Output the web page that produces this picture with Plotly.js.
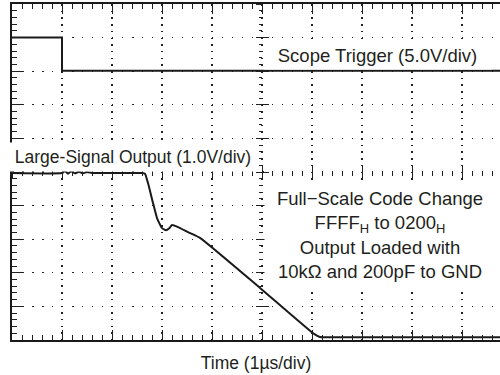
<!DOCTYPE html>
<html>
<head>
<meta charset="utf-8">
<script src="https://cdn.plot.ly/plotly-3.0.1.min.js"></script>
<style>html,body{margin:0;padding:0;background:#fff;}#chart{width:500px;height:375px;}</style>
</head>
<body>
<div id="chart"></div>
<script>
// Time axis in divisions (1 µs/div), vertical axis in divisions (0 = bottom, 10 = top)
const xRange = [0, 9.76];
const yRange = [0, 10];

// Scope trigger trace (5.0 V/div)
const triggerX = [0, 1.0, 1.0, 9.76];
const triggerY = [9.0, 9.0, 8.01, 8.01];

// Large-signal output trace (1.0 V/div)
const outputX = [0, 1.0, 1.06, 1.12, 1.18, 1.26, 1.34, 1.42, 1.5, 1.6, 2.0, 2.6, 2.66, 2.72, 2.82, 2.9, 3.0, 3.08, 3.14, 3.2, 3.32, 3.52, 3.76, 4.96, 6.04, 6.16, 6.4, 9.76];
const outputY = [4.97, 4.97, 5.03, 4.95, 5.02, 4.96, 5.01, 4.96, 5.0, 4.97, 4.97, 4.97, 4.95, 4.67, 4.08, 3.63, 3.33, 3.27, 3.32, 3.42, 3.36, 3.21, 3.04, 1.55, 0.18, 0.09, 0.08, 0.08];

// Text labels
const labelTrigger = 'Scope Trigger (5.0V/div)';
const labelOutput = 'Large-Signal Output (1.0V/div)';
const labelConditions = ['Full\u2212Scale Code Change', 'FFFF<sub>H</sub> to 0200<sub>H</sub>', 'Output Loaded with', '10k\u03A9 and 200pF to GND'];
const labelTime = 'Time (1\u00B5s/div)';

const ink = '#231f20';
const centerX = 5, centerY = 5;

const traces = [
  {x: triggerX, y: triggerY, mode: 'lines', line: {color: '#1a1a1a', width: 2}, hoverinfo: 'skip', showlegend: false},
  {x: outputX, y: outputY, mode: 'lines', line: {color: '#1a1a1a', width: 2, shape: 'spline', smoothing: 0.4}, hoverinfo: 'skip', showlegend: false},
  {x: [], y: [], xaxis: 'x2', yaxis: 'y', showlegend: false, hoverinfo: 'skip'},
  {x: [], y: [], xaxis: 'x3', yaxis: 'y', showlegend: false, hoverinfo: 'skip'},
  {x: [], y: [], xaxis: 'x', yaxis: 'y2', showlegend: false, hoverinfo: 'skip'},
  {x: [], y: [], xaxis: 'x', yaxis: 'y3', showlegend: false, hoverinfo: 'skip'}
];

function centerAxis(extra) {
  return Object.assign({
    showgrid: false, zeroline: false, showline: false, showticklabels: false,
    dtick: 1, ticklen: 6, tickwidth: 1, tickcolor: ink,
    minor: {dtick: 0.2, ticklen: 3, tickwidth: 1, tickcolor: ink, showgrid: false},
    anchor: 'free', fixedrange: true
  }, extra);
}

const yPos = (centerY - yRange[0]) / (yRange[1] - yRange[0]);
const xPos = (centerX - xRange[0]) / (xRange[1] - xRange[0]);

const layout = {
  width: 500, height: 375,
  margin: {l: 12, r: 0, t: 4, b: 35},
  paper_bgcolor: '#fff', plot_bgcolor: '#fff',
  font: {family: 'Liberation Sans, Arial, sans-serif', color: ink},
  showlegend: false,
  xaxis: {
    range: xRange, dtick: 1, showticklabels: false, zeroline: false,
    showline: true, linewidth: 2, linecolor: '#1a1a1a', mirror: 'ticks',
    ticks: 'inside', ticklen: 10, tickwidth: 1, tickcolor: ink,
    minor: {dtick: 0.2, ticks: 'inside', ticklen: 5, tickwidth: 1, tickcolor: ink, showgrid: false},
    showgrid: true, gridcolor: '#222', gridwidth: 1.3, griddash: '1.5px,5.2px',
    title: {text: labelTime, font: {size: 17.5, color: ink}, standoff: 16},
    fixedrange: true
  },
  yaxis: {
    range: yRange, dtick: 1, showticklabels: false, zeroline: false,
    showline: true, linewidth: 2, linecolor: '#1a1a1a',
    ticks: 'inside', ticklen: 10, tickwidth: 1, tickcolor: ink,
    minor: {dtick: 0.2, ticks: 'inside', ticklen: 5, tickwidth: 1, tickcolor: ink, showgrid: false},
    showgrid: true, gridcolor: '#222', gridwidth: 1.3, griddash: '1.5px,8.5px',
    fixedrange: true
  },
  xaxis2: centerAxis({overlaying: 'x', range: xRange, position: yPos, ticks: 'outside', side: 'bottom'}),
  xaxis3: centerAxis({overlaying: 'x', range: xRange, position: yPos, ticks: 'inside', side: 'bottom'}),
  yaxis2: centerAxis({overlaying: 'y', range: yRange, position: xPos, ticks: 'outside', side: 'left'}),
  yaxis3: centerAxis({overlaying: 'y', range: yRange, position: xPos, ticks: 'inside', side: 'left'}),
  annotations: [
    {x: 7.3, y: 8.48, xref: 'x', yref: 'y', text: labelTrigger, showarrow: false,
     font: {size: 18.5, color: ink}, bgcolor: '#fff', width: 225, height: 26},
    {x: 2.42, y: 5.45, xref: 'x', yref: 'y', text: labelOutput, showarrow: false,
     font: {size: 17.5, color: ink}, bgcolor: '#fff', width: 244, height: 26},
    {x: 7.36, y: 3.125, xref: 'x', yref: 'y', text: labelConditions.join('<br>'), showarrow: false,
     font: {size: 18.5, color: ink}, bgcolor: '#fff', width: 228, height: 104, align: 'center'}
  ]
};

Plotly.newPlot('chart', traces, layout, {staticPlot: true, displayModeBar: false});
</script>
</body>
</html>
